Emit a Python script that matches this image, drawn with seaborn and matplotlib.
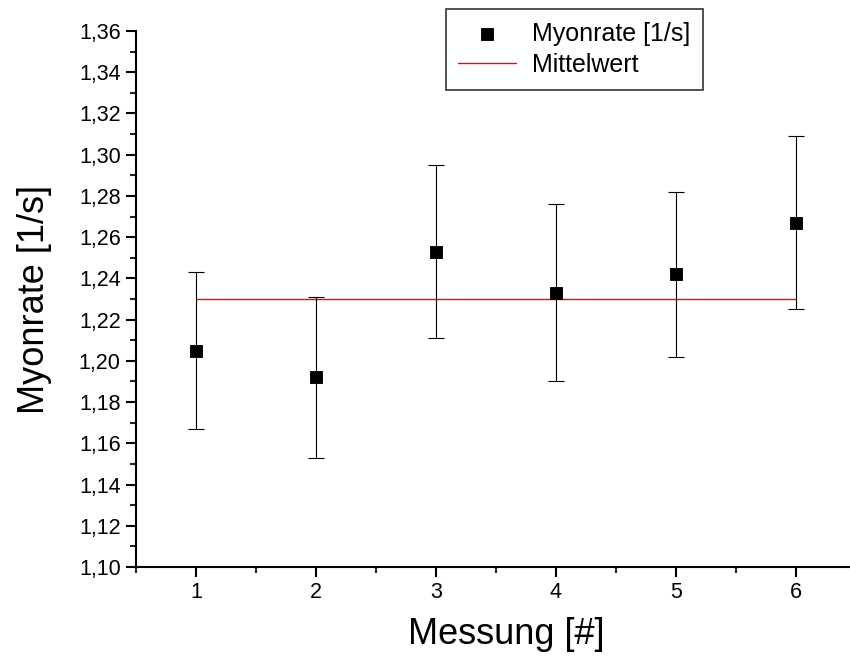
import matplotlib
matplotlib.use("Agg")
import matplotlib.pyplot as plt
import seaborn as sns
import numpy as np
import pandas as pd
from matplotlib.ticker import FuncFormatter, MultipleLocator

messung = [1, 2, 3, 4, 5, 6]
rate = [1.205, 1.192, 1.253, 1.233, 1.242, 1.267]
err = [0.038, 0.039, 0.042, 0.043, 0.040, 0.042]
mittelwert = 1.230

sns.set_style("ticks")
plt.rcParams['font.family'] = ['Liberation Sans', 'DejaVu Sans']
plt.rcParams['text.color'] = 'black'
plt.rcParams['axes.labelcolor'] = 'black'

fig = plt.figure(figsize=(8.5, 6.57), dpi=100)
ax = fig.add_axes([136/850, 90/657, 1 - 136/850, (567-31)/657])

df = pd.DataFrame({"Messung": messung, "Rate": rate})
ax.errorbar(messung, rate, yerr=err, fmt="none", ecolor="black", elinewidth=0.8,
            capsize=6, capthick=0.8, zorder=2)
sns.scatterplot(data=df, x="Messung", y="Rate", marker="s", s=64, color="black",
                edgecolor="black", ax=ax, zorder=3, label="Myonrate [1/s]")
sns.lineplot(x=[messung[0], messung[-1]], y=[mittelwert, mittelwert], color="red",
             linewidth=1.0, ax=ax, label="Mittelwert", zorder=1)

ax.set_xlim(0.5, 6.45)
ax.set_ylim(1.10, 1.36)
ax.xaxis.set_major_locator(MultipleLocator(1))
ax.xaxis.set_minor_locator(MultipleLocator(0.5))
ax.yaxis.set_major_locator(MultipleLocator(0.02))
ax.yaxis.set_minor_locator(MultipleLocator(0.01))
ax.yaxis.set_major_formatter(FuncFormatter(lambda v, p: f"{v:.2f}".replace(".", ",")))
ax.xaxis.set_major_formatter(FuncFormatter(lambda v, p: f"{int(round(v))}"))

for s in ["top", "right"]:
    ax.spines[s].set_visible(False)
for s in ["left", "bottom"]:
    ax.spines[s].set_linewidth(1.5)
    ax.spines[s].set_color("black")
ax.tick_params(axis="both", which="major", direction="out", length=7, width=1.5,
               labelsize=15.5, colors="black", pad=4)
ax.tick_params(axis="both", which="minor", direction="out", length=4, width=1.5)

ax.set_xlabel("Messung [#]", fontsize=26)
ax.set_ylabel("Myonrate [1/s]", fontsize=26)
ax.xaxis.set_label_coords((506 - 136) / 714, -(635 - 567) / 536, transform=ax.transAxes)
ax.yaxis.set_label_coords(-(136 - 35) / 714, 0.5, transform=ax.transAxes)
ax.xaxis.label.set_va("center")
ax.yaxis.label.set_va("center")

leg = fig.legend(*ax.get_legend_handles_labels(), loc="upper left",
                 bbox_to_anchor=(446/850, 1 - 9/657), fontsize=18,
                 frameon=True, fancybox=False, edgecolor="black",
                 handlelength=2.3, borderpad=0.5, labelspacing=0.3,
                 handletextpad=0.65, borderaxespad=0)
leg.get_frame().set_linewidth(1.2)
ax.get_legend().remove()

fig.savefig("out.png", dpi=100)
